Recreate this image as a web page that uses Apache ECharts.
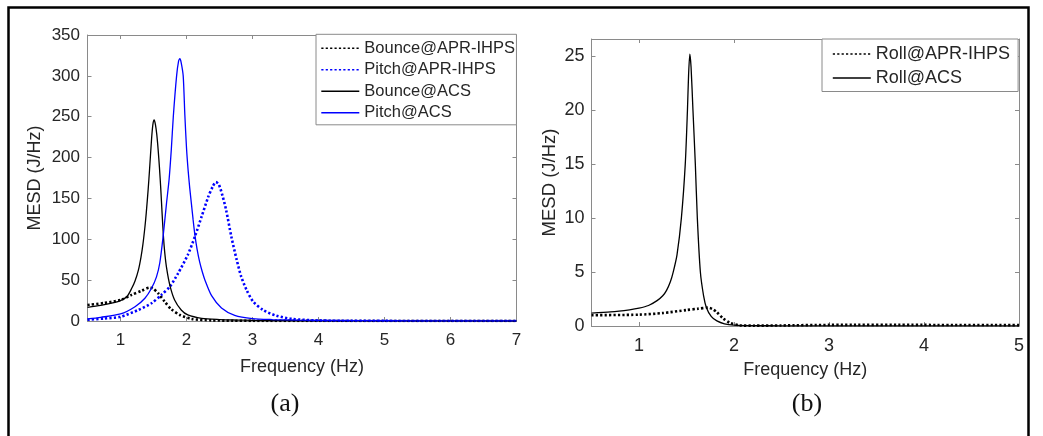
<!DOCTYPE html>
<html><head><meta charset="utf-8">
<script src="https://cdn.jsdelivr.net/npm/echarts@6/dist/echarts.min.js"></script>
<style>html,body{margin:0;padding:0;background:#fff}#c{width:1043px;height:436px}</style>
</head><body><div id="c"></div>
<script>
// ---------- Panel (a) data ----------
const xTicksA = [1, 2, 3, 4, 5, 6, 7];
const yTicksA = [0, 50, 100, 150, 200, 250, 300, 350];

const bounceApr_f = [0.5, 0.75, 1.0, 1.17, 1.32, 1.44, 1.49, 1.57, 1.67, 1.77, 1.9, 2.08, 2.38, 2.7, 3, 4, 5, 6, 7];
const bounceApr_v = [19.6, 22, 25.7, 32, 37, 40.8, 39.8, 34, 23.7, 14.3, 7.4, 2.5, 0.8, 0.3, 0.2, 0.1, 0.05, 0.03, 0.02];

const pitchApr_f = [0.5, 0.75, 1.0, 1.27, 1.47, 1.62, 1.747, 1.87, 2.02, 2.126, 2.23, 2.33, 2.4, 2.445, 2.49, 2.55, 2.6, 2.68, 2.76, 2.83, 2.91, 3.01, 3.16, 3.36, 3.6, 4.0, 4.5, 5, 6, 7];
const pitchApr_v = [1.5, 3, 5.3, 13.5, 21.7, 32, 42, 58, 81, 103, 128, 152, 165, 170, 167, 152, 136, 103, 75, 54, 38, 23.7, 13.5, 6.5, 2.5, 0.6, 0.2, 0.1, 0.05, 0.03];

const bounceAcs_f = [0.5, 0.7, 0.9, 1.0, 1.1, 1.17, 1.22, 1.27, 1.31, 1.34, 1.37, 1.39, 1.42, 1.44, 1.47, 1.49, 1.51, 1.53, 1.55, 1.57, 1.59, 1.61, 1.63, 1.65, 1.67, 1.70, 1.75, 1.82, 1.92, 2.02, 2.23, 2.5, 2.73, 3.0, 3.5, 4, 5, 6, 7];
const bounceAcs_v = [16.7, 19, 22.5, 25, 30, 40, 49, 62, 78, 94, 115, 132, 162, 185, 222, 240, 246, 240, 228, 210, 188, 162, 132, 104, 84, 64, 43, 25.7, 13.5, 7.4, 3.3, 1.8, 1.2, 0.8, 0.4, 0.2, 0.1, 0.05, 0.03];

const pitchAcs_f = [0.5, 0.7, 1.0, 1.22, 1.37, 1.47, 1.545, 1.595, 1.645, 1.697, 1.736, 1.77, 1.8, 1.85, 1.88, 1.9, 1.92, 1.95, 1.975, 2.0, 2.025, 2.05, 2.075, 2.1, 2.126, 2.16, 2.2, 2.24, 2.28, 2.38, 2.53, 2.73, 3.0, 3.3, 3.7, 4.2, 5, 6, 7];
const pitchAcs_v = [2.5, 4.5, 8.6, 17.5, 27.8, 40, 54, 71, 103, 144, 173, 210, 250, 300, 318, 321, 316, 300, 252, 212, 184, 162, 143, 124, 106, 88, 72, 60, 50, 31, 16, 7, 3, 1.8, 1, 0.6, 0.3, 0.15, 0.1];

// ---------- Panel (b) data ----------
const xTicksB = [1, 2, 3, 4, 5];
const yTicksB = [0, 5, 10, 15, 20, 25];

const rollApr_f = [0.5, 1.0, 1.25, 1.5, 1.62, 1.726, 1.77, 1.815, 1.885, 1.956, 2.06, 2.2, 2.5, 3, 4, 5];
const rollApr_v = [1.0, 1.05, 1.2, 1.48, 1.6, 1.7, 1.58, 1.32, 0.71, 0.3, 0.06, 0.03, 0.05, 0.1, 0.1, 0.08];

const rollAcs_f = [0.5, 0.7, 0.9, 1.0, 1.1, 1.19, 1.25, 1.29, 1.33, 1.36, 1.4, 1.446, 1.487, 1.51, 1.522, 1.535, 1.548, 1.568, 1.593, 1.614, 1.646, 1.68, 1.71, 1.76, 1.82, 1.9, 2.0, 2.2, 2.5, 3, 4, 5];
const rollAcs_v = [1.2, 1.3, 1.5, 1.65, 1.9, 2.35, 2.8, 3.3, 4.1, 5.0, 6.6, 10, 15, 20, 23.3, 25.2, 24.0, 20, 15, 10, 5, 2.8, 1.7, 0.9, 0.47, 0.2, 0.08, 0.03, 0.02, 0.01, 0.01, 0.01];

// ---------- styling ----------
const AX = '#8a8a8a';
const TXT = '#262626';
const FONT = 'Liberation Sans, Arial, sans-serif';
const pairs = (f, v) => f.map((x, i) => [x, v[i]]);

function xAxisCfg(grid, min, max, ticks, pos, showLabel, fs, margin, nameGap) {
  return {
    type: 'value', gridIndex: grid, min: min, max: max, position: pos,
    axisLine: { show: true, onZero: false, lineStyle: { color: AX, width: 1 } },
    axisTick: { show: true, inside: true, length: 4, customValues: ticks, lineStyle: { color: AX, width: 1 } },
    axisLabel: { show: showLabel, customValues: ticks, margin: margin, fontSize: fs, color: TXT, fontFamily: FONT },
    splitLine: { show: false },
    name: showLabel ? 'Frequency (Hz)' : '', nameLocation: 'middle', nameGap: nameGap,
    nameTextStyle: { fontSize: 18, color: TXT, fontFamily: FONT }
  };
}
function yAxisCfg(grid, min, max, ticks, pos, showLabel, fs, margin, nameGap, nfs) {
  return {
    type: 'value', gridIndex: grid, min: min, max: max, position: pos,
    axisLine: { show: true, onZero: false, lineStyle: { color: AX, width: 1 } },
    axisTick: { show: true, inside: true, length: 4, customValues: ticks, lineStyle: { color: AX, width: 1 } },
    axisLabel: { show: showLabel, customValues: ticks, margin: margin, fontSize: fs, color: TXT, fontFamily: FONT },
    splitLine: { show: false },
    name: showLabel ? 'MESD (J/Hz)' : '', nameLocation: 'middle', nameGap: nameGap, nameRotate: 90,
    nameTextStyle: { fontSize: nfs, color: TXT, fontFamily: FONT }
  };
}
function lineSeries(name, xi, yi, data, color, dotted) {
  return {
    name: name, type: 'line', xAxisIndex: xi, yAxisIndex: yi, data: data,
    showSymbol: false, symbol: 'none', smooth: 0.25,
    lineStyle: { color: color, width: dotted ? 2.6 : 1.3, type: dotted ? [2.2, 2.2] : 'solid' },
    itemStyle: { color: color }, animation: false
  };
}
const legendBase = {
  orient: 'vertical', itemWidth: 38, itemHeight: 12,
  borderColor: AX, borderWidth: 1, backgroundColor: '#fff', selectedMode: false,
  itemStyle: { opacity: 0, borderWidth: 0 },
  lineStyle: { width: 1.6 }
};

const chart = echarts.init(document.getElementById('c'));
chart.setOption({
  animation: false,
  backgroundColor: '#fff',
  grid: [
    { left: 87.5, top: 35, width: 429, height: 286 },
    { left: 591.5, top: 39, width: 427.5, height: 287 }
  ],
  xAxis: [
    xAxisCfg(0, 0.5, 7, xTicksA, 'bottom', true, 17, 11, 37),
    xAxisCfg(0, 0.5, 7, xTicksA, 'top', false, 17, 11, 37),
    xAxisCfg(1, 0.5, 5, xTicksB, 'bottom', true, 18, 11, 35),
    xAxisCfg(1, 0.5, 5, xTicksB, 'top', false, 18, 11, 35)
  ],
  yAxis: [
    yAxisCfg(0, 0, 350, yTicksA, 'left', true, 17, 7.5, 43.5, 18),
    yAxisCfg(0, 0, 350, yTicksA, 'right', false, 17, 7.5, 43.5, 18),
    yAxisCfg(1, 0, 26.6, yTicksB, 'left', true, 18, 7, 32.5, 18.5),
    yAxisCfg(1, 0, 26.6, yTicksB, 'right', false, 18, 7, 32.5, 18.5)
  ],
  legend: [
    Object.assign({}, legendBase, {
      data: ['Bounce@APR-IHPS', 'Pitch@APR-IHPS', 'Bounce@ACS', 'Pitch@ACS'],
      left: 316, top: 34.3, itemGap: 4.5, padding: [5.5, 1.5, 3.5, 4.5],
      textStyle: { fontSize: 16.5, color: TXT, fontFamily: FONT }
    }),
    Object.assign({}, legendBase, {
      data: ['Roll@APR-IHPS', 'Roll@ACS'],
      left: 822, top: 39, itemGap: 6, padding: [6, 8, 4.5, 10],
      textStyle: { fontSize: 18, color: TXT, fontFamily: FONT }
    })
  ],
  series: [
    lineSeries('Bounce@APR-IHPS', 0, 0, pairs(bounceApr_f, bounceApr_v), '#000000', true),
    lineSeries('Pitch@APR-IHPS', 0, 0, pairs(pitchApr_f, pitchApr_v), '#0000ff', true),
    lineSeries('Bounce@ACS', 0, 0, pairs(bounceAcs_f, bounceAcs_v), '#000000', false),
    lineSeries('Pitch@ACS', 0, 0, pairs(pitchAcs_f, pitchAcs_v), '#0000ff', false),
    lineSeries('Roll@APR-IHPS', 2, 2, pairs(rollApr_f, rollApr_v), '#000000', true),
    lineSeries('Roll@ACS', 2, 2, pairs(rollAcs_f, rollAcs_v), '#000000', false)
  ],
  graphic: [
    { type: 'rect', left: 6, top: 5, shape: { x: 0, y: 0, width: 1020, height: 460 },
      style: { fill: 'none', stroke: '#000', lineWidth: 2.5 }, silent: true },
    { type: 'text', x: 285, y: 404, style: { text: '(a)', font: '26px "Liberation Serif", "Times New Roman", serif', fill: '#111', align: 'center', verticalAlign: 'middle' } },
    { type: 'text', x: 807, y: 404, style: { text: '(b)', font: '26px "Liberation Serif", "Times New Roman", serif', fill: '#111', align: 'center', verticalAlign: 'middle' } }
  ]
});
</script></body></html>
